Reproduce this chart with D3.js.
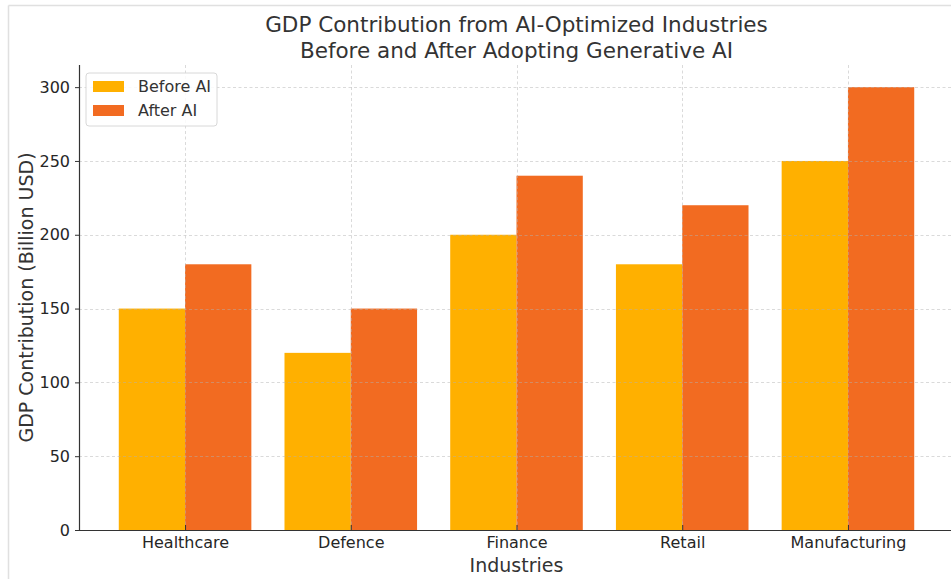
<!DOCTYPE html>
<html>
<head>
<meta charset="utf-8">
<script src="https://cdn.jsdelivr.net/npm/d3@7"></script>
<style>
  html, body { margin: 0; padding: 0; background: #fff; }
  svg { display: block; font-family: "DejaVu Sans", sans-serif; }
</style>
</head>
<body>
<svg id="chart" width="951" height="579"></svg>
<script>
// Industries and GDP contribution (billion USD)
const industries = ["Healthcare", "Defence", "Finance", "Retail", "Manufacturing"];
const beforeAI = [150, 120, 200, 180, 250];
const afterAI = [180, 150, 240, 220, 300];
const seriesNames = ["Before AI", "After AI"];
const seriesColors = ["#FFB000", "#F26B21"];
const yTicks = [0, 50, 100, 150, 200, 250, 300];

const svg = d3.select("#chart");
const W = 951, H = 579;

// frame around the figure
svg.append("line").attr("x1", 8.5).attr("x2", W).attr("y1", 5.5).attr("y2", 5.5)
  .attr("stroke", "#e0e0e0").attr("stroke-width", 1.5);
svg.append("line").attr("x1", 8.5).attr("x2", 8.5).attr("y1", 5.5).attr("y2", H)
  .attr("stroke", "#e0e0e0").attr("stroke-width", 1.5);

const plotL = 79, plotR = 954, plotT = 65, plotB = 530;

// numeric x so bars of width 0.4 sit either side of each category position
const x = d3.scaleLinear().domain([-0.64, industries.length - 1 + 0.64]).range([plotL, plotR]);
const y = d3.scaleLinear().domain([0, 315]).range([plotB, plotT]);
const barW = 0.4;

const series = [beforeAI, afterAI];
const g = svg.append("g");

series.forEach((vals, si) => {
  g.selectAll(null).data(vals).enter().append("rect")
    .attr("x", (d, i) => x(i + (si === 0 ? -barW : 0)))
    .attr("width", (d, i) => x(i + barW) - x(i))
    .attr("y", d => y(d))
    .attr("height", d => y(0) - y(d))
    .attr("fill", seriesColors[si]);
});

// dashed grid drawn over the bars
const grid = svg.append("g").attr("stroke", "#b0b0b0").attr("stroke-opacity", 0.6)
  .attr("stroke-width", 0.8).attr("stroke-dasharray", "3,2.5");
grid.selectAll(null).data(yTicks.filter(t => t > 0)).enter().append("line")
  .attr("x1", plotL).attr("x2", plotR)
  .attr("y1", d => Math.round(y(d)) + 0.5).attr("y2", d => Math.round(y(d)) + 0.5);
grid.selectAll(null).data(industries.map((d, i) => i)).enter().append("line")
  .attr("x1", d => Math.round(x(d)) + 0.5).attr("x2", d => Math.round(x(d)) + 0.5)
  .attr("y1", plotT).attr("y2", plotB);

// y axis
const yAxis = d3.axisLeft(y).tickValues(yTicks).tickSize(4).tickPadding(5);
const yg = svg.append("g").attr("transform", `translate(${plotL},0)`).call(yAxis);
yg.select(".domain").attr("d", `M0.5,${plotT}V${plotB}`).attr("stroke", "#333").attr("stroke-width", 1.2);
yg.selectAll(".tick line").attr("stroke", "#333");
yg.selectAll(".tick text").attr("font-size", 16).attr("fill", "#262626")
  .attr("font-family", "DejaVu Sans, sans-serif");

// x axis with category labels
const xAxis = d3.axisBottom(x).tickValues(industries.map((d, i) => i))
  .tickFormat(i => industries[i]).tickSize(-5).tickPadding(7);
const xg = svg.append("g").attr("transform", `translate(0,${plotB})`).call(xAxis);
xg.select(".domain").attr("d", `M${plotL},0.5H${plotR}`).attr("stroke", "#333").attr("stroke-width", 1.2);
xg.selectAll(".tick line").attr("stroke", "#333");
xg.selectAll(".tick text").attr("font-size", 16).attr("fill", "#262626")
  .attr("font-family", "DejaVu Sans, sans-serif");

// titles
const cx = (plotL + plotR) / 2;
svg.append("text").attr("x", cx).attr("y", 32).attr("text-anchor", "middle")
  .attr("font-size", 21.5).attr("fill", "#333").text("GDP Contribution from AI-Optimized Industries");
svg.append("text").attr("x", cx).attr("y", 58).attr("text-anchor", "middle")
  .attr("font-size", 21.5).attr("fill", "#333").text("Before and After Adopting Generative AI");

svg.append("text").attr("x", cx).attr("y", 572).attr("text-anchor", "middle")
  .attr("font-size", 19).attr("fill", "#333").text("Industries");
svg.append("text").attr("transform", `translate(33,${(plotT + plotB) / 2}) rotate(-90)`)
  .attr("text-anchor", "middle").attr("font-size", 19).attr("fill", "#333")
  .text("GDP Contribution (Billion USD)");

// legend
const lg = svg.append("g").attr("transform", "translate(86,73)");
lg.append("rect").attr("width", 131).attr("height", 53).attr("rx", 3)
  .attr("fill", "#fff").attr("fill-opacity", 0.85).attr("stroke", "#d8d8d8");
seriesNames.forEach((name, i) => {
  lg.append("rect").attr("x", 7).attr("y", 8 + i * 24).attr("width", 31).attr("height", 11)
    .attr("fill", seriesColors[i]);
  lg.append("text").attr("x", 52).attr("y", 19 + i * 24).attr("font-size", 16)
    .attr("fill", "#333").text(name);
});
</script>
</body>
</html>
